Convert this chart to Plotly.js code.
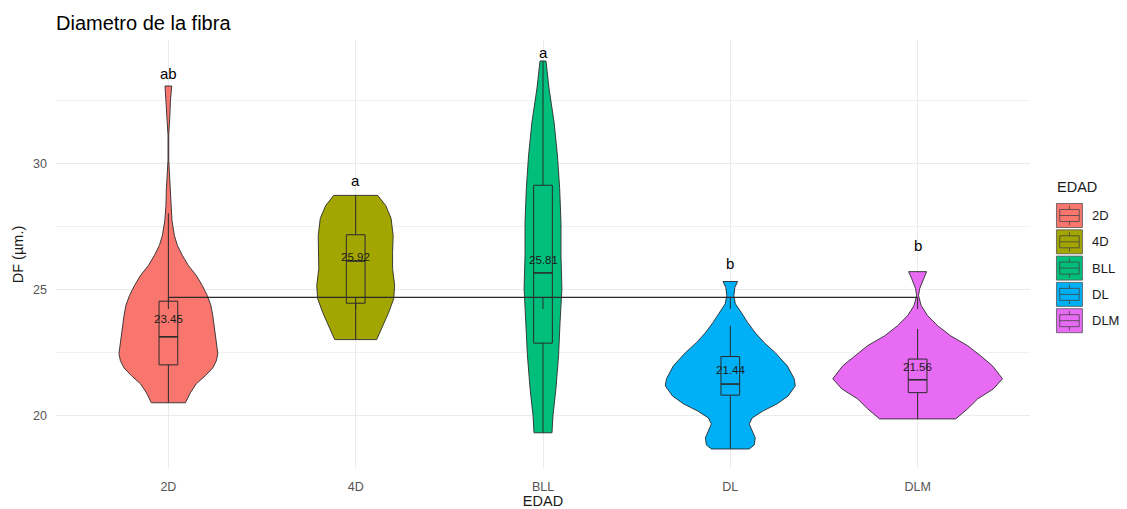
<!DOCTYPE html>
<html>
<head>
<meta charset="utf-8">
<script src="https://cdn.plot.ly/plotly-3.0.1.min.js"></script>
<style>html,body{margin:0;padding:0;background:#fff;}#chart{width:1127px;height:509px;}</style>
</head>
<body>
<div id="chart"></div>
<script>
// ---- Data ----
const categories = ['2D', '4D', 'BLL', 'DL', 'DLM'];

// violin outlines: DF value levels and half-widths (in category units)
const violinY_2D = [33.06, 32.90, 32.50, 31.90, 31.51, 31.11, 30.12, 29.52, 28.93, 28.33, 27.74, 27.14, 26.75, 26.35, 25.95, 25.56, 25.16, 24.76, 24.37, 23.97, 23.57, 23.17, 22.78, 22.46, 22.18, 21.90, 21.59, 21.27, 20.91, 20.52];
const violinW_2D = [0.018, 0.016, 0.011, 0.008, 0.005, 0.002, 0.002, 0.006, 0.011, 0.013, 0.019, 0.032, 0.048, 0.075, 0.107, 0.149, 0.181, 0.208, 0.227, 0.237, 0.245, 0.251, 0.259, 0.264, 0.256, 0.237, 0.197, 0.149, 0.117, 0.091];

const violinY_4D = [28.73, 28.33, 27.82, 27.14, 26.47, 25.83, 25.16, 24.64, 24.09, 23.57, 23.02];
const violinW_4D = [0.117, 0.160, 0.189, 0.200, 0.197, 0.197, 0.208, 0.203, 0.176, 0.144, 0.112];

const violinY_BLL = [34.05, 32.98, 31.63, 30.32, 29.01, 27.66, 26.35, 25.04, 23.69, 22.38, 21.07, 20.00, 19.33];
const violinW_BLL = [0.016, 0.032, 0.059, 0.077, 0.089, 0.096, 0.096, 0.101, 0.091, 0.083, 0.069, 0.053, 0.048];

const violinY_DL = [25.32, 25.08, 24.76, 24.44, 24.09, 23.69, 23.29, 22.90, 22.50, 21.98, 21.47, 21.19, 20.79, 20.48, 20.20, 19.92, 19.68, 19.40, 19.13, 18.85, 18.69];
const violinW_DL = [0.039, 0.024, 0.019, 0.027, 0.059, 0.093, 0.133, 0.181, 0.240, 0.304, 0.341, 0.347, 0.309, 0.251, 0.176, 0.117, 0.101, 0.117, 0.133, 0.128, 0.101];

const violinY_DLM = [25.71, 25.44, 25.04, 24.76, 24.37, 23.97, 23.57, 23.17, 22.78, 22.38, 21.98, 21.47, 21.07, 20.67, 20.28, 19.88];
const violinW_DLM = [0.048, 0.032, 0.011, 0.005, 0.019, 0.053, 0.107, 0.176, 0.267, 0.336, 0.400, 0.453, 0.405, 0.320, 0.267, 0.203];

// boxplot statistics
const boxQ1 = [22.02, 24.46, 22.88, 20.82, 20.92];
const boxMedian = [23.13, 26.13, 25.66, 21.26, 21.43];
const boxQ3 = [24.54, 27.17, 29.13, 22.35, 22.25];
const whiskerLow = [20.52, 23.02, 19.33, 18.69, 19.88];
const whiskerHigh = [28.02, 28.73, 34.05, 23.57, 23.44];

// means and significance letters
const means = [23.45, 25.92, 25.81, 21.44, 21.56];
const meanLabels = ['23.45', '25.92', '25.81', '21.44', '21.56'];
const letters = ['ab', 'a', 'a', 'b', 'b'];
const letterY = [33.57, 29.33, 34.37, 26.03, 26.75];

// overall reference line
const refLine = 24.69;
const refTickLow = 24.23;

// ---- Styling ----
const colors = ['#F8766D', '#A3A500', '#00BF7D', '#00B0F6', '#E76BF3'];
const FONT = 'Liberation Sans, Arial, sans-serif';
const BOX_HALF = 0.05;
const violinY = [violinY_2D, violinY_4D, violinY_BLL, violinY_DL, violinY_DLM];
const violinW = [violinW_2D, violinW_4D, violinW_BLL, violinW_DL, violinW_DLM];

const traces = [];
const lineTrace = (x, y, w) => ({type: 'scatter', mode: 'lines', x: x, y: y,
  line: {color: '#2b2b2b', width: w}, showlegend: false, hoverinfo: 'skip'});

categories.forEach((c, i) => {
  const ys = violinY[i], ws = violinW[i];
  const xs = [], yy = [];
  for (let k = 0; k < ys.length; k++) { xs.push(i + ws[k]); yy.push(ys[k]); }
  for (let k = ys.length - 1; k >= 0; k--) { xs.push(i - ws[k]); yy.push(ys[k]); }
  xs.push(xs[0]); yy.push(yy[0]);
  traces.push({
    type: 'scatter', mode: 'lines', x: xs, y: yy, fill: 'toself',
    fillcolor: colors[i], line: {color: '#2b2b2b', width: 0.9},
    hoverinfo: 'skip', showlegend: false
  });
});
categories.forEach((c, i) => {
  traces.push(lineTrace([i - BOX_HALF, i + BOX_HALF, i + BOX_HALF, i - BOX_HALF, i - BOX_HALF],
    [boxQ1[i], boxQ1[i], boxQ3[i], boxQ3[i], boxQ1[i]], 1));
  traces.push(lineTrace([i - BOX_HALF, i + BOX_HALF], [boxMedian[i], boxMedian[i]], 1.6));
  traces.push(lineTrace([i, i], [boxQ3[i], whiskerHigh[i]], 1));
  traces.push(lineTrace([i, i], [boxQ1[i], whiskerLow[i]], 1));
});
traces.push(lineTrace([0, categories.length - 1], [refLine, refLine], 1.2));
categories.forEach((c, i) => {
  traces.push(lineTrace([i, i], [refLine, refTickLow], 1));
});

const annotations = [];
categories.forEach((c, i) => {
  annotations.push({x: i, y: means[i], xref: 'x', yref: 'y', text: meanLabels[i], showarrow: false,
    yanchor: 'middle', yshift: 9.5, font: {family: FONT, size: 11.5, color: '#1a1a1a'}});
  annotations.push({x: i, y: letterY[i], xref: 'x', yref: 'y', text: letters[i], showarrow: false,
    yanchor: 'middle', font: {family: FONT, size: 15, color: '#000'}});
});

// ---- custom ggplot-like legend (pixel -> paper) ----
const ML = 55.5, MR = 96.5, MT = 40, MB = 40, W = 1127, H = 509;
const PW = W - ML - MR, PH = H - MT - MB;
const px = v => (v - ML) / PW;
const py = v => (H - MB - v) / PH;
const shapes = [];
annotations.push({xref: 'paper', yref: 'paper', x: px(1056), y: py(187), xanchor: 'left', yanchor: 'middle',
  text: 'EDAD', showarrow: false, font: {family: FONT, size: 14.5, color: '#1a1a1a'}});
categories.forEach((c, i) => {
  const x0 = 1057, x1 = 1083, y0 = 203.5 + i * 26.3, y1 = y0 + 24;
  const h = y1 - y0, w = x1 - x0, xm = (x0 + x1) / 2;
  shapes.push({type: 'rect', xref: 'paper', yref: 'paper', x0: px(x0), x1: px(x1), y0: py(y1), y1: py(y0),
    fillcolor: colors[i], line: {color: '#555', width: 0.8}});
  shapes.push({type: 'rect', xref: 'paper', yref: 'paper', x0: px(x0 + 0.125 * w), x1: px(x0 + 0.875 * w),
    y0: py(y0 + 0.75 * h), y1: py(y0 + 0.25 * h), line: {color: '#444', width: 0.8}});
  shapes.push({type: 'line', xref: 'paper', yref: 'paper', x0: px(x0 + 0.125 * w), x1: px(x0 + 0.875 * w),
    y0: py(y0 + 0.5 * h), y1: py(y0 + 0.5 * h), line: {color: '#444', width: 0.8}});
  shapes.push({type: 'line', xref: 'paper', yref: 'paper', x0: px(xm), x1: px(xm),
    y0: py(y0 + 0.1 * h), y1: py(y0 + 0.25 * h), line: {color: '#444', width: 0.8}});
  shapes.push({type: 'line', xref: 'paper', yref: 'paper', x0: px(xm), x1: px(xm),
    y0: py(y0 + 0.75 * h), y1: py(y0 + 0.9 * h), line: {color: '#444', width: 0.8}});
  annotations.push({xref: 'paper', yref: 'paper', x: px(1091), y: py((y0 + y1) / 2), xanchor: 'left', yanchor: 'middle',
    text: c, showarrow: false, font: {family: FONT, size: 13, color: '#1a1a1a'}});
});

const layout = {
  width: W, height: H,
  margin: {l: ML, r: MR, t: MT, b: MB, pad: 0},
  paper_bgcolor: '#fff', plot_bgcolor: '#fff',
  font: {family: FONT},
  title: {text: 'Diametro de la fibra', x: 56 / W, xanchor: 'left', xref: 'container',
    y: 1 - 23 / H, yanchor: 'middle', yref: 'container', font: {family: FONT, size: 20, color: '#000'}},
  xaxis: {
    range: [-0.6, 4.6], tickvals: [0, 1, 2, 3, 4], ticktext: categories,
    showgrid: true, gridcolor: '#ebebeb', gridwidth: 1, zeroline: false, showline: false,
    ticks: '', ticklabelstandoff: 8, tickfont: {family: FONT, size: 12.5, color: '#555'},
    title: {text: 'EDAD', standoff: 2, font: {family: FONT, size: 14.5, color: '#1a1a1a'}},
    automargin: false, fixedrange: true
  },
  yaxis: {
    range: [17.897, 34.881], tickvals: [20, 25, 30], ticktext: ['20', '25', '30'],
    showgrid: true, gridcolor: '#ebebeb', gridwidth: 1, zeroline: false, showline: false,
    minor: {tickvals: [22.5, 27.5, 32.5], showgrid: true, gridcolor: '#f1f1f1', gridwidth: 1, ticks: ''},
    ticks: '', ticklabelstandoff: 8, tickfont: {family: FONT, size: 12.5, color: '#555'},
    title: {text: 'DF (µm.)', standoff: 6, font: {family: FONT, size: 14.5, color: '#1a1a1a'}},
    automargin: false, fixedrange: true
  },
  showlegend: false,
  annotations: annotations,
  shapes: shapes
};

Plotly.newPlot('chart', traces, layout, {displayModeBar: false, staticPlot: true});
</script>
</body>
</html>
